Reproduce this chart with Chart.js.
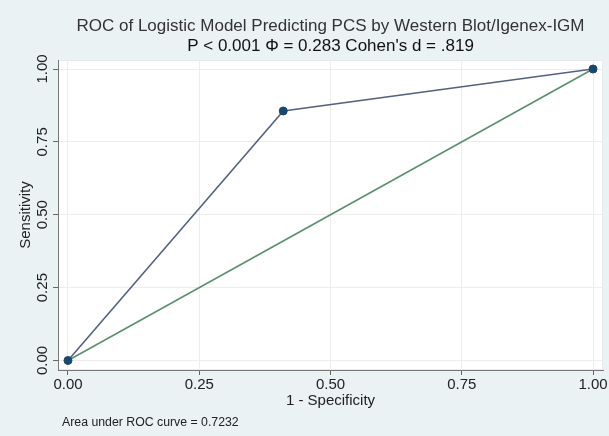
<!DOCTYPE html>
<html>
<head>
<meta charset="utf-8">
<script src="https://cdn.jsdelivr.net/npm/chart.js@4.4.1/dist/chart.umd.min.js"></script>
<style>
  html, body { margin:0; padding:0; background:#eaf2f3; }
  canvas { display:block; }
</style>
</head>
<body>
<canvas id="roc" width="609" height="436"></canvas>
<script>
/* ROC, modele logistique : valeurs */
var fprValues  = [0, 0.41, 1];
var sensValues = [0, 0.856, 1];
var refX = [0, 1];
var refY = [0, 1];
var tickValues = [0, 0.25, 0.5, 0.75, 1];

var titleText = 'ROC of Logistic Model Predicting PCS by Western Blot/Igenex-IGM';
var subtitleText = 'P < 0.001 \u03A6 = 0.283 Cohen\'s d = .819';
var noteText = 'Area under ROC curve = 0.7232';

var FONT = '"Liberation Sans", Arial, Helvetica, sans-serif';

function points(xs, ys){
  return xs.map(function(x, i){ return {x:x, y:ys[i]}; });
}
function fixedTicks(scale){
  scale.ticks = tickValues.map(function(v){ return {value:v}; });
}

var plotBackground = {
  id:'plotBackground',
  beforeDraw:function(chart){
    var ctx = chart.ctx, a = chart.chartArea;
    ctx.save();
    ctx.fillStyle = '#eaf2f3';
    ctx.fillRect(0, 0, chart.width, chart.height);
    ctx.fillStyle = '#ffffff';
    ctx.fillRect(a.left, a.top, a.right - a.left, a.bottom - a.top);
    ctx.strokeStyle = '#e6ecee';
    ctx.lineWidth = 1;
    ctx.strokeRect(a.left + 0.5, a.top + 0.5, a.right - a.left - 1, a.bottom - a.top - 1);
    ctx.restore();
  },
  afterDraw:function(chart){
    var ctx = chart.ctx;
    ctx.save();
    ctx.font = '12.3px ' + FONT;
    ctx.fillStyle = '#222';
    ctx.textBaseline = 'middle';
    ctx.textAlign = 'left';
    ctx.fillText(noteText, 62, 423);
    ctx.restore();
  }
};

new Chart(document.getElementById('roc'), {
  type:'line',
  data:{
    datasets:[
      {
        label:'ROC',
        data:points(fprValues, sensValues),
        borderColor:'#546280',
        borderWidth:1.6,
        pointRadius:4,
        pointBackgroundColor:'#1a476f',
        pointBorderColor:'#1a476f',
        pointBorderWidth:1,
        tension:0,
        order:0
      },
      {
        label:'Reference',
        data:points(refX, refY),
        borderColor:'#5b8f70',
        borderWidth:1.6,
        pointRadius:0,
        tension:0,
        order:1
      }
    ]
  },
  options:{
    responsive:false,
    animation:false,
    layout:{padding:{left:0, right:6, top:0, bottom:19.8}},
    plugins:{
      legend:{display:false},
      tooltip:{enabled:false},
      title:{
        display:true, text:titleText, fullSize:false,
        color:'#333', font:{family:FONT, size:17, weight:'normal', lineHeight:1.2},
        padding:{top:16, bottom:0}
      },
      subtitle:{
        display:true, text:subtitleText, fullSize:false,
        color:'#111', font:{family:FONT, size:17, weight:'normal', lineHeight:1.2},
        padding:{top:0, bottom:3.2}
      }
    },
    scales:{
      x:{
        type:'linear', min:-0.019, max:1.019,
        afterBuildTicks:fixedTicks,
        afterFit:function(s){ s.height = 46.2; },
        grid:{color:'#ededed', tickColor:'#666', tickLength:5, lineWidth:1},
        border:{display:true, color:'#777', width:1},
        ticks:{
          color:'#222', padding:1, maxRotation:0,
          font:{family:FONT, size:15},
          callback:function(v){ return Number(v).toFixed(2); }
        },
        title:{
          display:true, text:'1 - Specificity', color:'#222',
          font:{family:FONT, size:15, lineHeight:1.2},
          padding:{top:0, bottom:6.2}
        }
      },
      y:{
        type:'linear', min:-0.0326, max:1.0309,
        afterBuildTicks:fixedTicks,
        afterFit:function(s){ s.width = 58; },
        grid:{color:'#ededed', tickColor:'#666', tickLength:5, lineWidth:1},
        border:{display:true, color:'#777', width:1},
        ticks:{
          color:'#222', padding:-4.6, minRotation:90, maxRotation:90,
          crossAlign:'center',
          font:{family:FONT, size:15},
          callback:function(v){ return Number(v).toFixed(2); }
        },
        title:{
          display:true, text:'Sensitivity', color:'#222',
          font:{family:FONT, size:15, lineHeight:1.2},
          padding:{top:17, bottom:0}
        }
      }
    }
  },
  plugins:[plotBackground]
});
</script>
</body>
</html>
